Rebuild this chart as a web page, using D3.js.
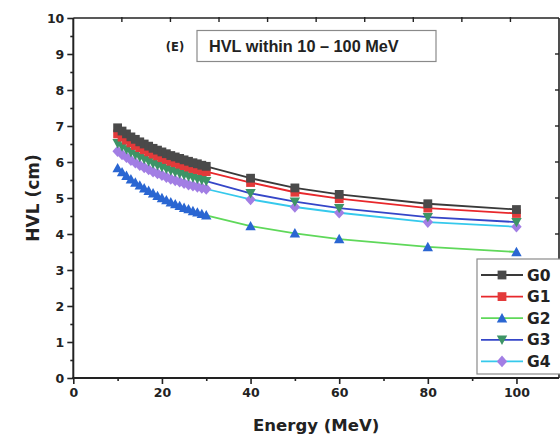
<!DOCTYPE html>
<html>
<head>
<meta charset="utf-8">
<script src="https://cdn.jsdelivr.net/npm/d3@7"></script>
<style>
  html, body { margin: 0; padding: 0; background: #fff; }
  svg { display: block; }
  text { font-family: "DejaVu Sans", "Liberation Sans", sans-serif; font-weight: bold; fill: #222; }
</style>
</head>
<body>
<svg id="chart" width="560" height="436"></svg>
<script>
// Photon energies (MeV)
const energies = [10, 11, 12, 13, 14, 15, 16, 17, 18, 19, 20, 21, 22, 23, 24, 25, 26, 27, 28, 29, 30, 40, 50, 60, 80, 100];

// Half value layer (cm) for each glass sample
const hvlG0 = [6.95, 6.86, 6.78, 6.70, 6.63, 6.56, 6.50, 6.44, 6.38, 6.33, 6.28, 6.23, 6.18, 6.14, 6.10, 6.06, 6.02, 5.98, 5.95, 5.91, 5.88, 5.55, 5.28, 5.10, 4.84, 4.68];
const hvlG1 = [6.78, 6.69, 6.61, 6.53, 6.46, 6.40, 6.34, 6.28, 6.22, 6.17, 6.12, 6.07, 6.02, 5.98, 5.94, 5.90, 5.86, 5.82, 5.79, 5.76, 5.73, 5.43, 5.16, 4.98, 4.72, 4.57];
const hvlG2 = [5.83, 5.72, 5.62, 5.52, 5.43, 5.35, 5.27, 5.20, 5.13, 5.06, 5.00, 4.94, 4.88, 4.83, 4.78, 4.73, 4.69, 4.64, 4.60, 4.56, 4.52, 4.22, 4.02, 3.86, 3.64, 3.50];
const hvlG3 = [6.52, 6.43, 6.35, 6.27, 6.20, 6.14, 6.08, 6.02, 5.96, 5.91, 5.86, 5.81, 5.76, 5.72, 5.68, 5.64, 5.60, 5.57, 5.53, 5.50, 5.47, 5.13, 4.90, 4.72, 4.47, 4.33];
const hvlG4 = [6.30, 6.21, 6.13, 6.05, 5.98, 5.91, 5.85, 5.79, 5.73, 5.68, 5.63, 5.58, 5.53, 5.49, 5.45, 5.41, 5.37, 5.34, 5.31, 5.28, 5.25, 4.96, 4.75, 4.59, 4.33, 4.20];

const seriesNames = ["G0", "G1", "G2", "G3", "G4"];
const xTicks = [0, 20, 40, 60, 80, 100];
const yTicks = [0, 1, 2, 3, 4, 5, 6, 7, 8, 9, 10];

const styles = {
  G0: { line: "#3a3a3a", fill: "#4a4a4a", shape: "square" },
  G1: { line: "#e8282c", fill: "#e33a3a", shape: "square" },
  G2: { line: "#5fd85a", fill: "#2a66d2", shape: "triUp" },
  G3: { line: "#3546c8", fill: "#3d9466", shape: "triDown" },
  G4: { line: "#36c9ec", fill: "#a27ee4", shape: "diamond" }
};

const series = [
  { name: "G0", values: hvlG0 },
  { name: "G1", values: hvlG1 },
  { name: "G2", values: hvlG2 },
  { name: "G3", values: hvlG3 },
  { name: "G4", values: hvlG4 }
];

const svg = d3.select("#chart");
const plotLeft = 73.3, plotRight = 559, plotTop = 18, plotBottom = 378;

const x = d3.scaleLinear().domain([0, 109.6]).range([plotLeft, plotRight]);
const y = d3.scaleLinear().domain([0, 10]).range([plotBottom, plotTop]);

function symbolPath(shape, cx, cy) {
  const s = 4.4;
  switch (shape) {
    case "square": return `M${cx - s},${cy - s}h${2 * s}v${2 * s}h${-2 * s}Z`;
    case "triUp": return `M${cx},${cy - 5.2}L${cx + 5.2},${cy + 4.2}L${cx - 5.2},${cy + 4.2}Z`;
    case "triDown": return `M${cx},${cy + 5.2}L${cx + 5.2},${cy - 4.2}L${cx - 5.2},${cy - 4.2}Z`;
    case "diamond": return `M${cx},${cy - 5.8}L${cx + 5.2},${cy}L${cx},${cy + 5.8}L${cx - 5.2},${cy}Z`;
  }
}
function marker(g, shape, cx, cy, fill) {
  g.append("path").attr("d", symbolPath(shape, cx, cy)).attr("fill", fill);
}

// Series lines and markers
const plot = svg.append("g");
const line = d3.line().x(d => x(d[0])).y(d => y(d[1]));
const drawOrder = ["G4", "G3", "G2", "G1", "G0"];
drawOrder.forEach(name => {
  const s = series.find(d => d.name === name);
  const st = styles[name];
  const pts = energies.map((e, i) => [e, s.values[i]]);
  plot.append("path").datum(pts).attr("d", line)
    .attr("fill", "none").attr("stroke", st.line).attr("stroke-width", 1.8);
  const mg = plot.append("g");
  pts.forEach(p => marker(mg, st.shape, x(p[0]), y(p[1]), st.fill));
});

// Axes
const axisColor = "#222";
const gx = svg.append("g").attr("transform", `translate(0,${plotBottom})`)
  .call(d3.axisBottom(x).tickValues(xTicks).tickSize(6).tickPadding(4).tickFormat(d3.format("d")));
gx.append("g").call(d3.axisBottom(x).tickValues([10, 30, 50, 70, 90]).tickSize(3).tickFormat(""));
const gy = svg.append("g").attr("transform", `translate(${plotLeft},0)`)
  .call(d3.axisLeft(y).tickValues(yTicks).tickSize(6).tickPadding(3).tickFormat(d3.format("d")));
gy.append("g").call(d3.axisLeft(y).tickValues(d3.range(0.5, 10, 1)).tickSize(3).tickFormat(""));

[gx, gy].forEach(g => {
  g.selectAll(".domain").remove();
  g.selectAll("line").attr("stroke", axisColor).attr("stroke-width", 1.6);
  g.selectAll("text").attr("font-size", 12.5).attr("font-weight", "bold").attr("fill", "#222")
    .attr("font-family", "'DejaVu Sans', sans-serif");
});

// Frame
svg.append("line").attr("x1", plotLeft).attr("x2", plotLeft).attr("y1", plotTop).attr("y2", plotBottom + 1).attr("stroke", axisColor).attr("stroke-width", 2);
svg.append("line").attr("x1", plotLeft - 1).attr("x2", plotRight).attr("y1", plotBottom).attr("y2", plotBottom).attr("stroke", axisColor).attr("stroke-width", 2);
svg.append("line").attr("x1", plotLeft).attr("x2", plotRight).attr("y1", plotTop).attr("y2", plotTop).attr("stroke", axisColor).attr("stroke-width", 1.6);
svg.append("line").attr("x1", plotRight).attr("x2", plotRight).attr("y1", plotTop).attr("y2", plotBottom).attr("stroke", axisColor).attr("stroke-width", 1.6);

// Top and right ticks (inward)
const topScale = d3.scaleLinear().domain([0, 10]).range([plotLeft, plotRight]);
svg.append("g").selectAll("line").data(d3.range(1, 10)).join("line")
  .attr("x1", d => topScale(d)).attr("x2", d => topScale(d))
  .attr("y1", plotTop - 1).attr("y2", plotTop + 4).attr("stroke", axisColor).attr("stroke-width", 1.4);
svg.append("g").selectAll("line").data(d3.range(1, 10)).join("line")
  .attr("x1", plotRight - 4).attr("x2", plotRight)
  .attr("y1", d => y(d)).attr("y2", d => y(d)).attr("stroke", axisColor).attr("stroke-width", 1.4);

// Axis titles
svg.append("text").attr("x", (plotLeft + plotRight) / 2).attr("y", 431).attr("text-anchor", "middle")
  .attr("font-size", 16.5).text("Energy (MeV)");
svg.append("text").attr("transform", `translate(39,${(plotTop + plotBottom) / 2}) rotate(-90)`)
  .attr("text-anchor", "middle").attr("font-size", 17).text("HVL (cm)");

// Panel label and range note
svg.append("text").attr("x", 175).attr("y", 51).attr("text-anchor", "middle")
  .attr("font-size", 11.5).text("(E)");
svg.append("rect").attr("x", 197).attr("y", 30.5).attr("width", 239).attr("height", 31)
  .attr("fill", "#fff").attr("stroke", "#8a8a8a").attr("stroke-width", 1.2);
svg.append("text").attr("x", 209).attr("y", 51.5)
  .style("font-family", "'Liberation Sans', Arial, sans-serif")
  .attr("font-size", 16.3).text("HVL within 10 – 100 MeV");

// Legend
const lg = svg.append("g");
lg.append("rect").attr("x", 477).attr("y", 259).attr("width", 90).attr("height", 115)
  .attr("fill", "#fff").attr("stroke", "#8a8a8a").attr("stroke-width", 1.2);
seriesNames.forEach((name, i) => {
  const st = styles[name];
  const cy = 275 + i * 21.6;
  lg.append("line").attr("x1", 481).attr("x2", 523).attr("y1", cy).attr("y2", cy)
    .attr("stroke", st.line).attr("stroke-width", 1.8);
  marker(lg, st.shape, 502, cy, st.fill);
  lg.append("text").attr("x", 527).attr("y", cy + 5.5).attr("font-size", 15.5).text(name);
});
</script>
</body>
</html>
